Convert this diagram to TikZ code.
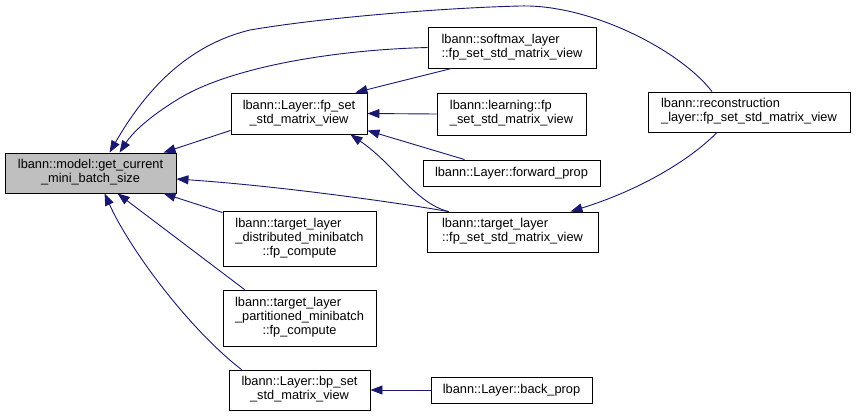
\documentclass[tikz,border=0pt]{standalone}
\usepackage{fontspec}
\setmainfont{Liberation Sans}
\usetikzlibrary{arrows.meta}
\definecolor{edgeblue}{HTML}{191970}
\definecolor{mgray}{HTML}{BFBFBF}
\newcommand{\boxl}[1]{\begin{tabular}{@{}l@{}}#1\end{tabular}}
\newcommand{\boxc}[1]{\begin{tabular}{@{}c@{}}#1\end{tabular}}
\newcommand{\midline}[1]{\multicolumn{1}{@{}c@{}}{#1}}
\tikzset{
  fnbox/.style={draw=black, fill=white, inner sep=0pt, line width=0.9pt,
    font=\fontsize{12.8}{14}\selectfont},
  calledge/.style={draw=edgeblue, line width=0.9pt,
    -{Triangle[length=12pt,width=9pt]}}
}
\begin{document}
\begin{tikzpicture}[x=1pt,y=-1pt]
\useasboundingbox[fill=white] (0,0) rectangle (856,416);

\node[fnbox, fill=mgray, minimum width=171pt, minimum height=40pt] (main) at (90.5,173)
  {\boxc{lbann::model::get\_current\\\_mini\_batch\_size}};
\node[fnbox, minimum width=136pt, minimum height=41pt] (fp) at (299,113.5)
  {\boxc{lbann::Layer::fp\_set\\\_std\_matrix\_view}};
\node[fnbox, minimum width=168pt, minimum height=41pt] (sm) at (512,47.5)
  {\boxl{lbann::softmax\_layer\\::fp\_set\_std\_matrix\_view}};
\node[fnbox, minimum width=149pt, minimum height=42pt] (ln) at (511.5,114)
  {\boxl{lbann::learning::fp\\\_set\_std\_matrix\_view}};
\node[fnbox, minimum width=177pt, minimum height=26pt] (fw) at (511.5,173)
  {lbann::Layer::forward\_prop};
\node[fnbox, minimum width=171pt, minimum height=40pt] (tl) at (512.5,232)
  {\boxl{lbann::target\_layer\\::fp\_set\_std\_matrix\_view}};
\node[fnbox, minimum width=202pt, minimum height=40pt] (rec) at (749,112)
  {\boxl{lbann::reconstruction\\\_layer::fp\_set\_std\_matrix\_view}};
\node[fnbox, minimum width=153pt, minimum height=55pt] (dist) at (299.5,238.5)
  {\boxl{lbann::target\_layer\\\_distributed\_minibatch\\\midline{::fp\_compute}}};
\node[fnbox, minimum width=153pt, minimum height=56pt] (part) at (299.5,318)
  {\boxl{lbann::target\_layer\\\_partitioned\_minibatch\\\midline{::fp\_compute}}};
\node[fnbox, minimum width=141pt, minimum height=40pt] (bp) at (299.5,390)
  {\boxc{lbann::Layer::bp\_set\\\_std\_matrix\_view}};
\node[fnbox, minimum width=161pt, minimum height=26pt] (bk) at (511.5,390)
  {lbann::Layer::back\_prop};

\draw[calledge] ([xshift=-37pt]rec.north) .. controls (680,50) and (590,4) .. (520,6)
  .. controls (440,8) and (320,18) .. (250,30)
  .. controls (180,47) and (140,100) .. ([xshift=105pt]main.north west);
\draw[calledge] (sm.west) .. controls (330,50) and (230,68) .. (180,98)
  .. controls (150,116) and (133,132) .. ([xshift=115pt]main.north west);
\draw[calledge] ([yshift=4pt]fp.south west) -- ([xshift=159pt]main.north west);
\draw[calledge] ([xshift=22pt]tl.north west) .. controls (400,203) and (280,186) .. ([yshift=-6pt]main.east);
\draw[calledge] ([yshift=-2pt]dist.north west) -- ([xshift=159pt]main.south west);
\draw[calledge] ([xshift=22pt]part.north west) -- ([xshift=113pt]main.south west);
\draw[calledge] ([xshift=13pt]bp.north west) .. controls (190,330) and (130,250) .. ([xshift=100pt]main.south west);
\draw[calledge] ([xshift=24pt]sm.south west) -- ([xshift=-12pt]fp.north east);
\draw[calledge] (ln.west) -- (fp.east);
\draw[calledge] ([xshift=42pt]fw.north west) -- ([yshift=-17pt]fp.east);
\draw[calledge] ([xshift=22pt]tl.north west) .. controls (415,203) and (395,165) .. ([xshift=-17pt]fp.south east);
\draw[calledge] ([xshift=-32pt]rec.south) .. controls (690,160) and (640,190) .. ([xshift=-28pt]tl.north east);
\draw[calledge] (bk.west) -- (bp.east);
\end{tikzpicture}
\end{document}
